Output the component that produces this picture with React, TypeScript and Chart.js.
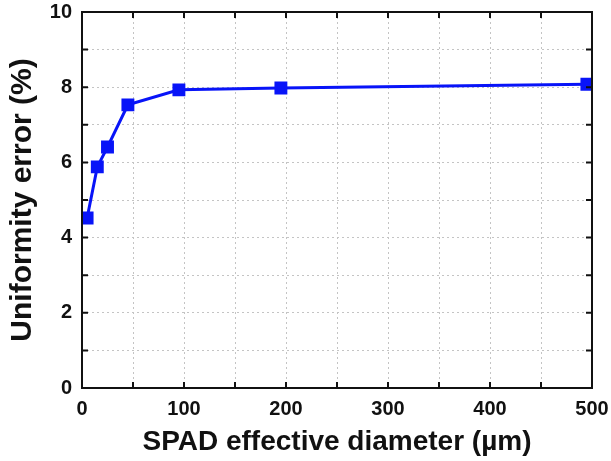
import React, { useEffect, useRef } from "react";
import { Chart, registerables } from "chart.js";

Chart.register(...registerables);

const diameters = [5, 15, 25, 45, 95, 195, 495];
const uniformityError = [4.52, 5.88, 6.41, 7.53, 7.93, 7.98, 8.08];
const xTickLabels = ["0", "100", "200", "300", "400", "500"];
const yTickLabels = ["0", "2", "4", "6", "8", "10"];
const xTitle = "SPAD effective diameter (\u00b5m)";
const yTitle = "Uniformity error (%)";

const FONT = "'Liberation Sans', Arial, sans-serif";

const framePlugin = {
  id: "frameTicks",
  afterDraw(chart: any) {
    const { ctx, chartArea: a, scales } = chart;
    const L = 6;
    ctx.save();
    ctx.strokeStyle = "#111";
    ctx.lineWidth = 2;
    ctx.strokeRect(a.left, a.top, a.right - a.left, a.bottom - a.top);
    ctx.beginPath();
    for (let v = 50; v < 500; v += 50) {
      const x = scales.x.getPixelForValue(v);
      ctx.moveTo(x, a.bottom);
      ctx.lineTo(x, a.bottom - L);
      ctx.moveTo(x, a.top);
      ctx.lineTo(x, a.top + L);
    }
    for (let v = 1; v < 10; v += 1) {
      const y = scales.y.getPixelForValue(v);
      ctx.moveTo(a.left, y);
      ctx.lineTo(a.left + L, y);
      ctx.moveTo(a.right, y);
      ctx.lineTo(a.right - L, y);
    }
    ctx.stroke();
    ctx.restore();
  },
};

export default function App() {
  const ref = useRef<HTMLCanvasElement>(null);
  useEffect(() => {
    document.body.style.margin = "0";
    const chart = new Chart(ref.current!, {
      type: "line",
      data: {
        datasets: [
          {
            data: diameters.map((d, i) => ({ x: d, y: uniformityError[i] })),
            borderColor: "#0814f8",
            backgroundColor: "#0814f8",
            borderWidth: 3,
            pointStyle: "rect",
            pointRadius: 7,
            pointHoverRadius: 7,
            tension: 0,
          },
        ],
      },
      options: {
        animation: false,
        responsive: false,
        events: [],
        layout: { padding: { left: 0, right: 19, top: 12, bottom: 0 } },
        plugins: { legend: { display: false }, tooltip: { enabled: false } },
        scales: {
          x: {
            type: "linear",
            min: 0,
            max: 500,
            afterFit: (s: any) => {
              s.height = 73;
              s.paddingLeft = 0;
              s.paddingRight = 0;
            },
            grid: { color: "#c4c4c4", lineWidth: 1, drawTicks: false },
            border: { display: false, dash: [2, 3] },
            ticks: {
              stepSize: 50,
              padding: 9,
              color: "#111",
              font: { family: FONT, size: 20, weight: "bold" },
              maxRotation: 0,
              autoSkip: false,
              callback: (v: any) => {
                const idx = xTickLabels.indexOf(String(v));
                return idx >= 0 ? xTickLabels[idx] : "";
              },
            },
            title: {
              display: true,
              text: xTitle,
              color: "#111",
              font: { family: FONT, size: 28, weight: "bold" },
              padding: { top: 0, bottom: 2 },
            },
          },
          y: {
            type: "linear",
            min: 0,
            max: 10,
            afterFit: (s: any) => {
              s.width = 82;
              s.paddingTop = 0;
              s.paddingBottom = 0;
            },
            grid: { color: "#c4c4c4", lineWidth: 1, drawTicks: false },
            border: { display: false, dash: [2, 3] },
            ticks: {
              stepSize: 1,
              padding: 10,
              color: "#111",
              font: { family: FONT, size: 20, weight: "bold" },
              autoSkip: false,
              callback: (v: any) => {
                const idx = yTickLabels.indexOf(String(v));
                return idx >= 0 ? yTickLabels[idx] : "";
              },
            },
            title: {
              display: true,
              text: yTitle,
              color: "#111",
              font: { family: FONT, size: 30, weight: "bold" },
              padding: { top: 5, bottom: 0 },
            },
          },
        },
      },
      plugins: [framePlugin],
    } as any);
    return () => chart.destroy();
  }, []);
  return (
    <div style={{ width: 611, height: 461, background: "#fff" }}>
      <canvas ref={ref} width={611} height={461} />
    </div>
  );
}
